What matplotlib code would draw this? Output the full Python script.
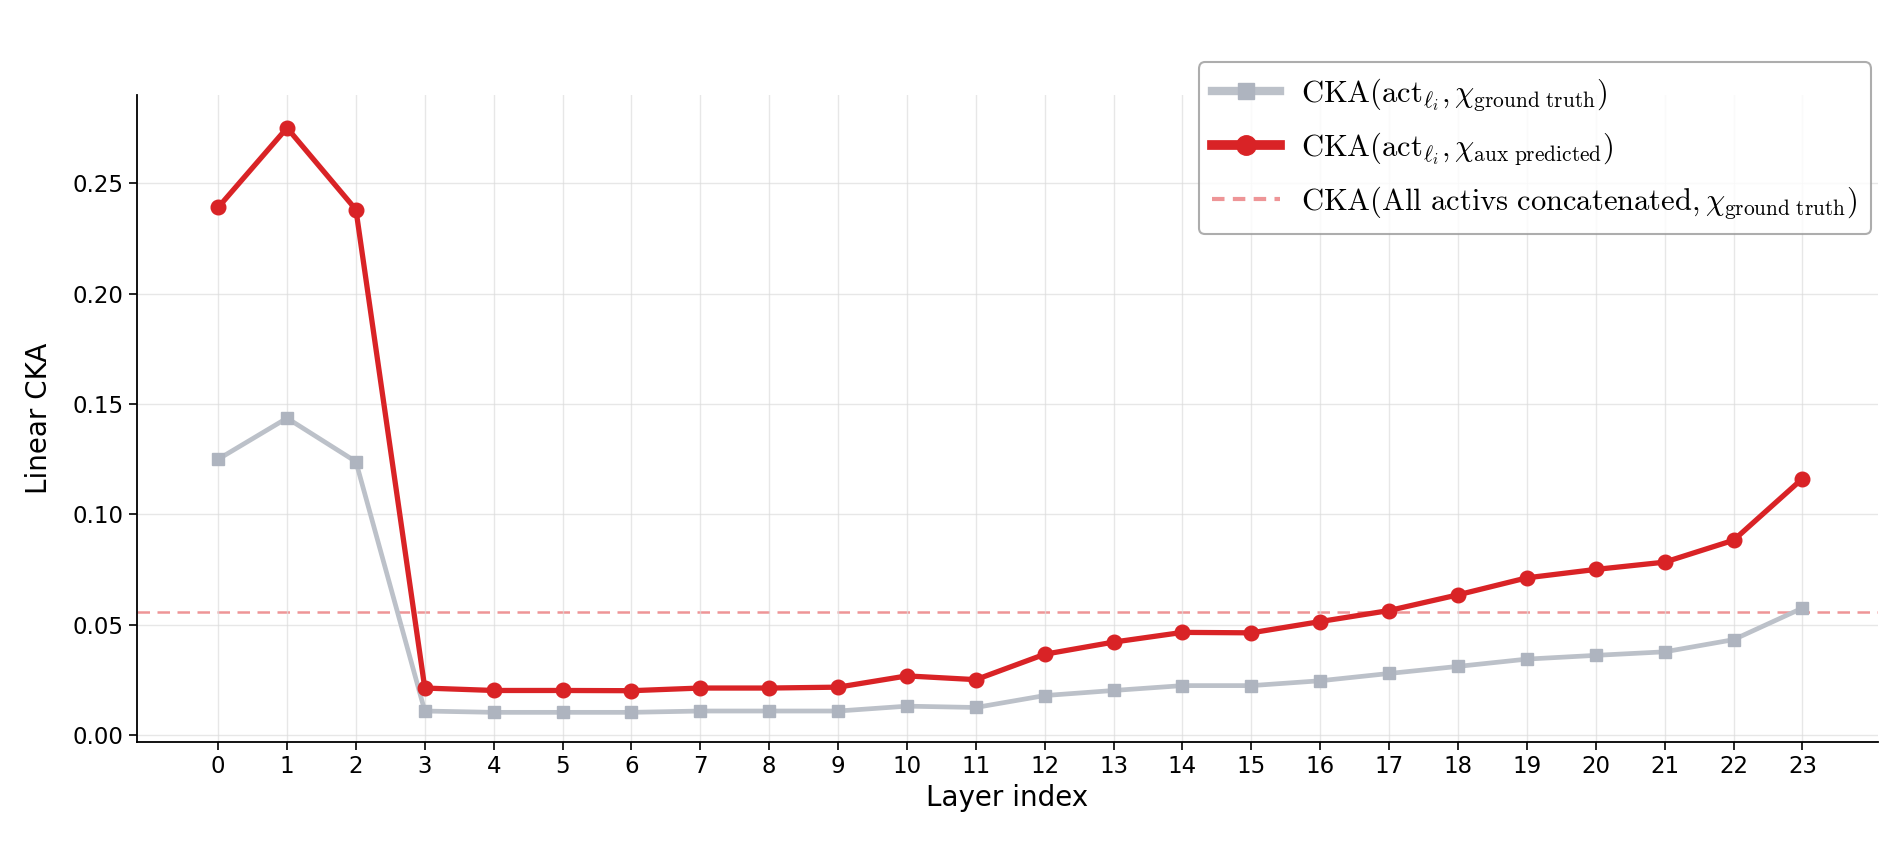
import matplotlib
matplotlib.use("Agg")
import matplotlib.pyplot as plt
from matplotlib.lines import Line2D

plt.rcParams["mathtext.fontset"] = "cm"

layers = list(range(24))
cka_pred = [0.239, 0.275, 0.238, 0.0214, 0.0203, 0.0203, 0.0202, 0.0214, 0.0214, 0.0218,
            0.0269, 0.0252, 0.0367, 0.0422, 0.0466, 0.0464, 0.0515, 0.0565, 0.0636, 0.0713,
            0.0751, 0.0784, 0.0883, 0.1162]
cka_gt = [0.125, 0.1436, 0.1239, 0.0110, 0.0104, 0.0104, 0.0104, 0.0110, 0.0110, 0.0110,
          0.0132, 0.0126, 0.0180, 0.0203, 0.0225, 0.0225, 0.0247, 0.0280, 0.0312, 0.0345,
          0.0362, 0.0378, 0.0433, 0.0576]
cka_concat = 0.056

label_gt = r"$\mathrm{CKA}(\mathrm{act}_{\ell_i}, \chi_{\mathrm{ground\ truth}})$"
label_pred = r"$\mathrm{CKA}(\mathrm{act}_{\ell_i}, \chi_{\mathrm{aux\ predicted}})$"
label_concat = r"$\mathrm{CKA}(\mathrm{All\ activs\ concatenated}, \chi_{\mathrm{ground\ truth}})$"

red = "#d92326"
gray = "#bcc1c9"

fig = plt.figure(figsize=(19.01, 8.46), dpi=100)
ax = fig.add_axes([0.072, 0.123, 0.916, 0.765])

ax.plot(layers, cka_gt, color=gray, lw=3.4, marker="s", markersize=8,
        markerfacecolor="#aeb4bf", markeredgecolor="#aeb4bf", zorder=2)
ax.plot(layers, cka_pred, color=red, lw=3.8, marker="o", markersize=10.5, zorder=3)
ax.axhline(cka_concat, color="#e8686b", lw=1.8, ls=(0, (5, 3)), alpha=0.7, zorder=1)

ax.set_xlim(-1.18, 24.1)
ax.set_ylim(-0.003, 0.29)
ax.set_xticks(layers)
ax.set_yticks([0.0, 0.05, 0.10, 0.15, 0.20, 0.25])
ax.set_yticklabels(["0.00", "0.05", "0.10", "0.15", "0.20", "0.25"])
ax.tick_params(labelsize=16.5, length=6, width=1.2)
ax.set_xlabel("Layer index", fontsize=20)
ax.set_ylabel("Linear CKA", fontsize=20, labelpad=14)
ax.grid(True, color="#dddddd", lw=1.0, alpha=0.7)
ax.spines["top"].set_visible(False)
ax.spines["right"].set_visible(False)
ax.spines["left"].set_linewidth(1.3)
ax.spines["bottom"].set_linewidth(1.3)

handles = [
    Line2D([], [], color=gray, lw=6, marker="s", markersize=11,
           markerfacecolor="#aeb4bf", markeredgecolor="#aeb4bf"),
    Line2D([], [], color=red, lw=7, marker="o", markersize=14),
    Line2D([], [], color="#e8686b", lw=3, ls=(0, (3, 2)), alpha=0.7),
]
leg = ax.legend(handles, [label_gt, label_pred, label_concat], loc="upper right",
                bbox_to_anchor=(0.996, 1.05), borderaxespad=0, fontsize=22,
                frameon=True, fancybox=True, edgecolor="#999999", handlelength=2.2,
                labelspacing=0.55, borderpad=0.45, handletextpad=0.7)
leg.get_frame().set_linewidth(1.5)

fig.savefig("out.png", dpi=100)
